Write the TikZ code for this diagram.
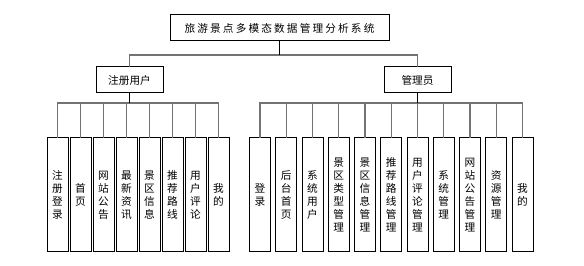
\documentclass[tikz,border=0pt]{standalone}
\usepackage{fontspec}
\usepackage{tikz}
\usetikzlibrary{positioning}
\newfontfamily\cjk{Noto Sans CJK SC}
\newfontfamily\cjkwide[LetterSpace=20]{Noto Sans CJK SC}
\tikzset{
 box/.style={draw,line width=0.75pt,outer sep=0pt,minimum height=19.5pt,
   font=\cjk\fontsize{8pt}{9.4pt}\selectfont},
 leaf/.style={draw,line width=0.75pt,outer sep=0pt,minimum width=15.75pt,
   minimum height=85.5pt,inner sep=0pt,align=center,
   font=\cjk\fontsize{8pt}{9.8pt}\selectfont},
 link/.style={draw=black!55,line width=1pt},
 stem/.style={draw=black,line width=0.75pt}
}
\begin{document}
\begin{tikzpicture}[x=0.75pt,y=-0.75pt]
 \useasboundingbox (0,0) rectangle (584,266);
 \node[box,minimum width=164.25pt,font=\cjkwide\fontsize{8pt}{9.4pt}\selectfont] (sys) at (279.5,28) {旅游景点多模态数据管理分析系统};
 \node[box,minimum width=50.25pt] (user) at (129.5,80) {注册用户};
 \node[box,minimum width=50.25pt] (admin) at (417.5,80) {管理员};
 \draw[link] (user.north) |- (sys.south |- 0,55) coordinate (top bus) -| (admin.north);
 \draw[stem] (sys.south) -- (top bus);
 % user side
 \node[leaf] (u1) at (57.5,195) {注\\册\\登\\录};
 \foreach \t [count=\i from 2] in {{首\\页},{网\\站\\公\\告},{最\\新\\资\\讯},
   {景\\区\\信\\息},{推\\荐\\路\\线},{用\\户\\评\\论},{我\\的}}{
   \pgfmathtruncatemacro\j{\i-1}
   \node[leaf,right=1.5pt of u\j] (u\i) {\t};
 }
 \foreach \i in {1,...,8}
   \draw[link] (user.south) -- ++(0,10) -| (u\i.north);
 \draw[stem] (user.south) -- ++(0,10);
 % admin side
 \node[leaf] (a1) at (260,195) {登\\录};
 \foreach \t [count=\i from 2] in {{后\\台\\首\\页},{系\\统\\用\\户},{景\\区\\类\\型\\管\\理},
   {景\\区\\信\\息\\管\\理},{推\\荐\\路\\线\\管\\理},{用\\户\\评\\论\\管\\理},
   {系\\统\\管\\理},{网\\站\\公\\告\\管\\理},{资\\源\\管\\理},{我\\的}}{
   \pgfmathtruncatemacro\j{\i-1}
   \node[leaf,right=3.94pt of a\j] (a\i) {\t};
 }
 \foreach \i in {1,...,11}
   \draw[link] (admin.south) -- ++(0,10) -| (a\i.north);
 \draw[stem] (admin.south) -- ++(0,10);
\end{tikzpicture}
\end{document}
